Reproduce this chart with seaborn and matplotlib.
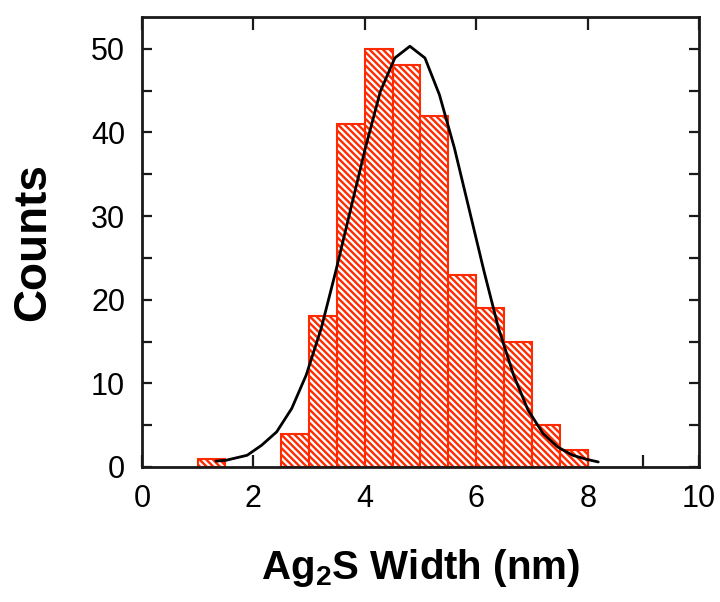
import numpy as np
import pandas as pd
import seaborn as sns
import matplotlib
matplotlib.use("Agg")
import matplotlib.pyplot as plt
from matplotlib.ticker import MultipleLocator, FixedLocator

# ---- data ----
bin_edges = [1.0, 1.5, 2.0, 2.5, 3.0, 3.5, 4.0, 4.5, 5.0, 5.5, 6.0, 6.5, 7.0, 7.5, 8.0]
bin_counts = [1, 0, 0, 4, 18, 41, 50, 48, 42, 23, 19, 15, 5, 2]

fit_x = [1.33, 1.51, 1.89, 2.15, 2.42, 2.69, 2.95, 3.22, 3.48, 3.75, 4.01, 4.28,
         4.54, 4.81, 5.08, 5.34, 5.61, 5.87, 6.14, 6.40, 6.67, 6.93, 7.20, 7.46,
         7.73, 7.99, 8.19]
fit_y = [0.7, 0.8, 1.4, 2.6, 4.2, 7.0, 11.0, 16.6, 23.4, 30.9, 38.1, 44.9,
         48.9, 50.3, 48.9, 44.5, 38.1, 30.9, 23.4, 16.6, 11.0, 6.8, 4.0, 2.4,
         1.4, 0.9, 0.6]

x_label = r"Ag$_\mathregular{2}$S Width (nm)"
y_label = "Counts"

sns.set_style("ticks")
plt.rcParams["font.family"] = ["Liberation Sans", "DejaVu Sans"]
plt.rcParams["hatch.linewidth"] = 1.7
plt.rcParams["text.color"] = "black"
plt.rcParams["axes.labelcolor"] = "black"
plt.rcParams["xtick.color"] = "black"
plt.rcParams["ytick.color"] = "black"

centers = [(a + b) / 2 for a, b in zip(bin_edges[:-1], bin_edges[1:])]
df = pd.DataFrame({"width": centers, "count": bin_counts})

fig = plt.figure(figsize=(7.2, 6.02), dpi=100)
ax = fig.add_axes([0.197, 0.2243, 0.774, 0.7475])

sns.histplot(data=df, x="width", weights="count", bins=bin_edges, ax=ax,
             stat="count", element="bars", fill=True,
             facecolor="white", edgecolor="#ff2a00", linewidth=1.5, alpha=1)
for p in ax.patches:
    if p.get_height() > 0:
        p.set_hatch("\\\\\\\\\\")
        p.set_edgecolor("#ff2a00")
        p.set_facecolor("white")
    else:
        p.set_visible(False)

sns.lineplot(x=fit_x, y=fit_y, ax=ax, color="black", linewidth=2.0, sort=False)

ax.set_xlim(0, 10)
ax.set_ylim(0, 53.8)
ax.xaxis.set_major_locator(MultipleLocator(2))
ax.xaxis.set_minor_locator(FixedLocator([3, 5, 7, 9]))
ax.yaxis.set_major_locator(MultipleLocator(10))
ax.yaxis.set_minor_locator(MultipleLocator(5))

for s in ax.spines.values():
    s.set_visible(True)
    s.set_linewidth(2.0)
    s.set_color("#1a1a1a")

ax.tick_params(axis="both", which="both", direction="in", width=1.6, color="#1a1a1a")
ax.tick_params(axis="x", which="major", length=9, top=True, bottom=True, pad=12,
               labelsize=22, labelcolor="black")
ax.tick_params(axis="x", which="minor", length=9, top=False, bottom=True)
ax.tick_params(axis="y", which="major", length=7, left=True, right=True, pad=12,
               labelsize=22, labelcolor="black")
ax.tick_params(axis="y", which="minor", length=7, left=True, right=True)

ax.set_xlabel(x_label, fontsize=29, fontweight="bold", labelpad=24, color="black")
ax.set_ylabel(y_label, fontsize=33, fontweight="bold", labelpad=26, color="black")

fig.savefig("out.png", dpi=100)
